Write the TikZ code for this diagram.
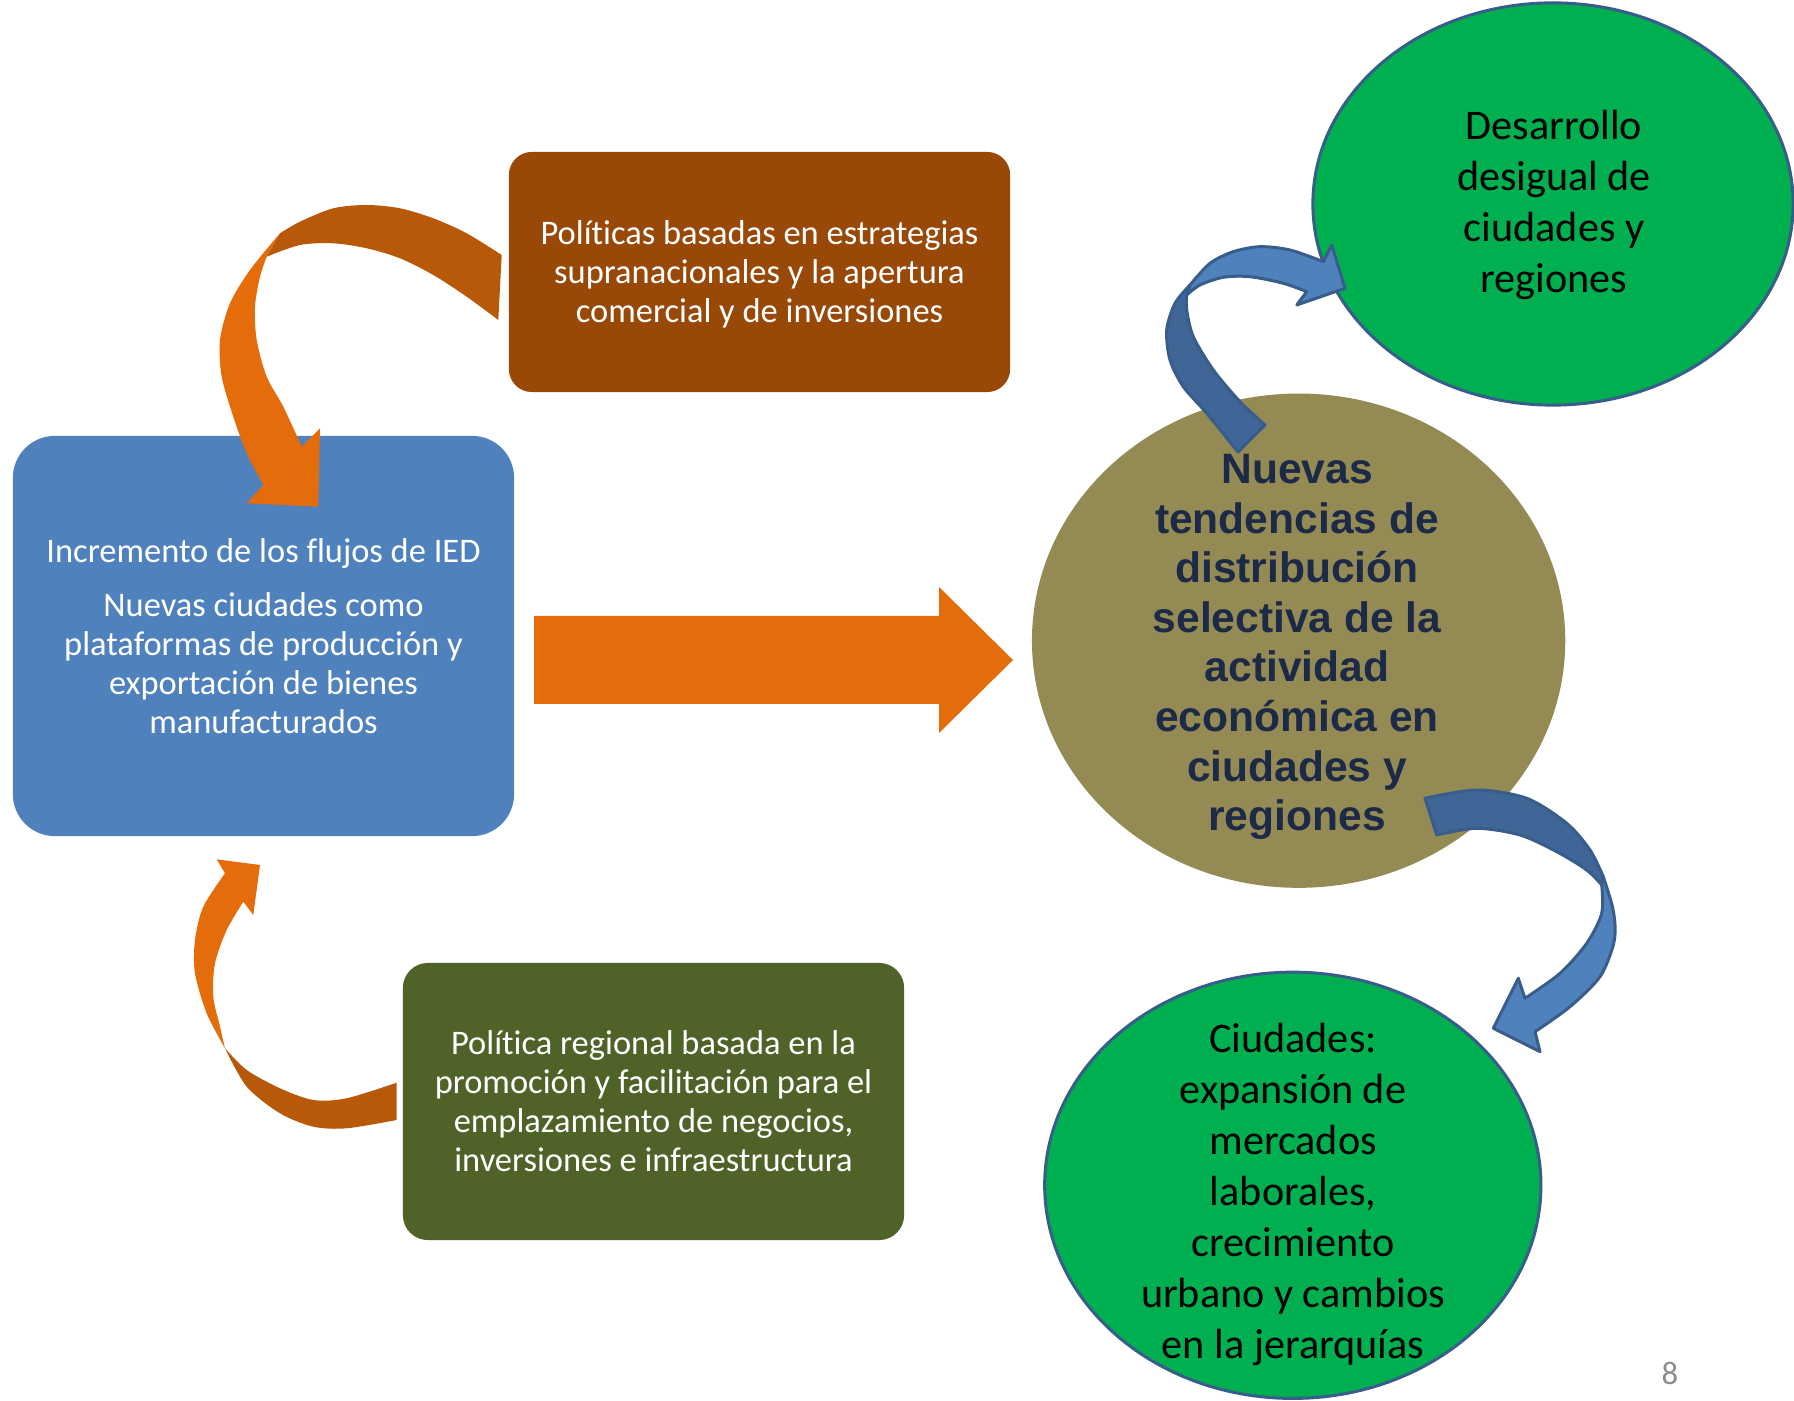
\documentclass[tikz,border=0pt]{standalone}
\usepackage{fontspec}
\setmainfont[Ligatures=NoCommon]{Carlito}
\newfontfamily\arialf{Liberation Sans}
\usetikzlibrary{shapes.geometric}
\definecolor{polbrown}{HTML}{984807}
\definecolor{boxblue}{HTML}{4F81BD}
\definecolor{boxgreen}{HTML}{4F6228}
\definecolor{olive}{HTML}{948A54}
\definecolor{brightgreen}{HTML}{00B050}
\definecolor{edgeblue}{HTML}{385D8A}
\definecolor{olight}{HTML}{E46C0A}
\definecolor{odark}{HTML}{B8590A}
\definecolor{bdark}{HTML}{3F6696}
\definecolor{navytext}{HTML}{1C2A47}
\definecolor{pagegray}{HTML}{8C8C8C}
\tikzset{
  boxtext/.style={text=white, align=center, inner sep=0pt,
    font=\fontsize{9.8}{11.1}\selectfont},
  greenell/.style={ellipse, fill=brightgreen, draw=edgeblue, line width=0.03cm,
    inner sep=0pt},
  greentext/.style={align=center, text=black, inner sep=0pt,
    font=\fontsize{12}{14.5}\selectfont},
  ribbon/.style={draw=edgeblue, line width=0.03cm, line join=round},
}
\begin{document}
\begin{tikzpicture}[x=0.01cm, y=-0.01cm]
\useasboundingbox (0,0) rectangle (1794,1401);
\fill[white] (0,0) rectangle (1794,1401);

% boxes
\node[boxtext, fill=polbrown, rounded corners=0.23cm,
  minimum width=5.01cm, minimum height=2.40cm] (pol) at (759.5,272) {};
\node[boxtext] (poltext) at (759.5,274)
  {Políticas basadas en estrategias\\supranacionales y la apertura\\comercial y de inversiones};
\node[boxtext, fill=boxblue, rounded corners=0.42cm,
  minimum width=5.01cm, minimum height=4.00cm] (inc) at (263.5,636)
  {Incremento de los flujos de IED\\[4.3pt]Nuevas ciudades como\\plataformas de producción y\\exportación de bienes\\manufacturados};
\node[boxtext, fill=boxgreen, rounded corners=0.25cm,
  minimum width=5.01cm, minimum height=2.77cm] (reg) at (653.5,1101.5)
  {Política regional basada en la\\promoción y facilitación para el\\emplazamiento de negocios,\\inversiones e infraestructura};

% ellipses
\node[ellipse, fill=olive, inner sep=0pt, minimum width=5.33cm, minimum height=4.94cm]
  (nt) at (1298.6,640.7) {};
\node[align=center, inner sep=0pt, text=navytext,
  font=\arialf\bfseries\fontsize{12.1}{14.1}\selectfont] (nttext) at (1297,647)
  {Nuevas\\tendencias de\\distribución\\selectiva de la\\actividad\\económica en\\ciudades y\\regiones};
\node[greenell, minimum width=4.80cm, minimum height=4.02cm] (des) at (1553,204) {};
\node[greentext] (destext) at (1554,205)
  {Desarrollo\\desigual de\\ciudades y\\regiones};
\node[greenell, minimum width=4.96cm, minimum height=4.26cm] (ciu) at (1292.8,1185.3) {};
\node[greentext] (ciutext) at (1293,1194)
  {Ciudades:\\expansión de\\mercados\\laborales,\\crecimiento\\urbano y cambios\\en la jerarquías};

% big straight arrow
\fill[olight] (534,616) -- (939,616) -- (939,587) -- (1013,660) -- (939,733)
  -- (939,704) -- (534,704) -- cycle;

% top-left curved arrow
\fill[olight] plot[smooth] coordinates {(280,233.3) (250,270) (230,303.3) (220,340)
  (221.7,376.7) (233.3,416.7) (246.7,453.3) (263.3,485)}
  -- (246.7,503.3) -- (318.3,506.7) -- (320,428.3) -- (301.7,446.7)
  -- plot[smooth] coordinates {(301.7,446.7) (283.3,406.7) (266.7,376.7) (256.7,340)
  (255,306.7) (260,276.7) (266.7,256.7)} -- cycle;
\fill[odark] plot[smooth] coordinates {(501.7,255) (466.7,233.3) (433.3,218.3) (400,208.3)
  (366.7,205) (333.3,208.3) (300,221.7) (280,233.3)}
  -- (266.7,256.7)
  -- plot[smooth] coordinates {(266.7,256.7) (300,245) (333.3,243.3) (366.7,248.3)
  (400,258.3) (433.3,275) (466.7,296.7) (498.3,320)} -- cycle;

% bottom-left curved arrow
\fill[odark] plot[smooth] coordinates {(225,1048.3) (246.7,1086.7) (280,1113.3)
  (313.3,1126.7) (346.7,1128.3) (396.7,1120)}
  -- (396.7,1082.7)
  -- plot[smooth] coordinates {(396.7,1082.7) (346.7,1098.3) (313.3,1100) (280,1088.3)
  (246.7,1070) (225,1048.3)} -- cycle;
\fill[olight] plot[smooth] coordinates {(225,1048.3) (206.7,1013.3) (195,973.3) (195,940)
  (203.3,906.7) (225,873.3)}
  -- (216.7,859.3) -- (260,865) -- (253.3,915) -- (243.3,901.7)
  -- plot[smooth] coordinates {(243.3,901.7) (226.7,930) (215,963.3) (213.3,996.7)
  (220,1026.7) (225,1048.3)} -- cycle;

% top-right blue curved arrow
\filldraw[ribbon, fill=bdark] plot[smooth] coordinates {(1190,285) (1175,303.3)
  (1166.7,330) (1170,360) (1183.3,386.7) (1206.7,413.3) (1238,452)}
  -- (1265,425)
  -- plot[smooth] coordinates {(1265,425) (1240,401.7) (1213.3,370) (1193.3,336.7)
  (1186.7,310) (1186.7,295)} -- cycle;
\filldraw[ribbon, fill=boxblue] plot[smooth] coordinates {(1190,285) (1210,263.3)
  (1233.3,251.7) (1260,246.7) (1290,250) (1323.3,261.7)}
  -- (1331.7,245) -- (1345,288.3) -- (1296.7,305) -- (1306.7,291.7)
  -- plot[smooth] coordinates {(1306.7,291.7) (1283.3,283.3) (1250,276.7) (1223.3,277.3)
  (1200,285) (1186.7,295)} -- cycle;

% bottom-right blue curved arrow
\filldraw[ribbon, fill=bdark] plot[smooth] coordinates {(1425,798.3) (1476.7,790)
  (1526.7,798.3) (1566.7,823.3) (1590,850) (1603.3,876.7)}
  -- (1601.7,885)
  -- plot[smooth] coordinates {(1601.7,885) (1586.7,870) (1556.7,851.7) (1520,835)
  (1476.7,828.3) (1436.7,835)} -- cycle;
\filldraw[ribbon, fill=boxblue] plot[smooth] coordinates {(1603.3,876.7) (1612,905)
  (1615,925) (1613.3,945) (1600,976.7) (1570,1006.7) (1535,1031.7)}
  -- (1540,1051.7) -- (1493.3,1028.3) -- (1518.3,978.3) -- (1525,998.3)
  -- plot[smooth] coordinates {(1525,998.3) (1560,973.3) (1586.7,943.3) (1601.7,913.3)
  (1601.7,885)} -- cycle;

% page number
\node[text=pagegray, font=\fontsize{9.3}{11}\selectfont, inner sep=0pt] (pg) at (1670,1373) {8};
\end{tikzpicture}
\end{document}
